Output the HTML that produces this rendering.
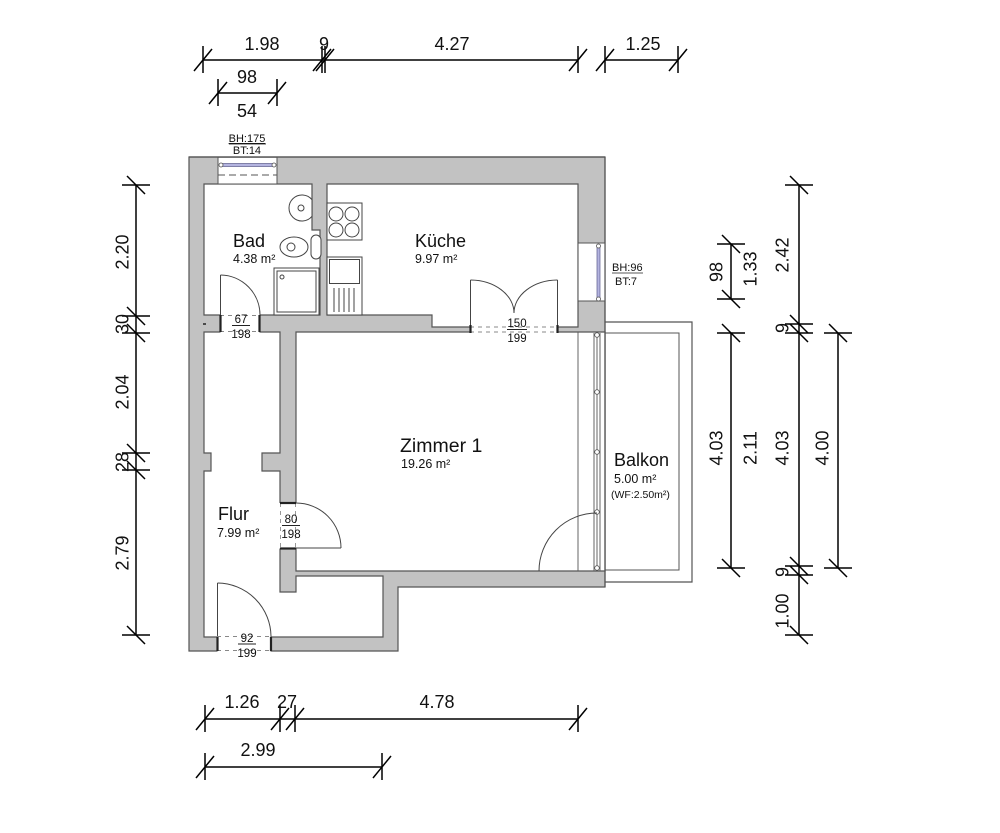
<!DOCTYPE html>
<html><head><meta charset="utf-8"><style>
html,body{margin:0;padding:0;background:#fff;}
svg{display:block;}
text{font-family:"Liberation Sans",Arial,sans-serif;fill:#111;}
</style></head><body>
<svg width="1000" height="833" viewBox="0 0 1000 833" xmlns="http://www.w3.org/2000/svg">
<rect width="1000" height="833" fill="#fff"/>

<!-- walls -->
<polygon points="189,157 605,157 605,587 398,587 398,651 189,651" fill="#c2c2c2" stroke="#555" stroke-width="1.2"/>
<!-- balcony -->
<polyline points="605,322 692,322 692,582 605,582" fill="none" stroke="#555" stroke-width="1.2"/>
<polyline points="605,333 679,333 679,570 605,570" fill="none" stroke="#555" stroke-width="1"/>

<!-- rooms -->
<g fill="#fff" stroke="#555" stroke-width="1.2">
<polygon points="204,184 312,184 312,230 320,230 320,315 204,315"/>
<polygon points="327,184 578,184 578,327 432,327 432,315 327,315"/>
<polygon points="296,332 605,332 605,571 296,571"/>
<polygon points="204,332 280,332 280,453 262,453 262,471 280,471 280,592 296,592 296,576 383,576 383,637 204,637 204,471 211,471 211,453 204,453"/>
</g>

<!-- openings -->
<g fill="#fff">
<rect x="218" y="158" width="59" height="26.5"/>
<rect x="578.6" y="243" width="26" height="58"/>
<rect x="220.5" y="314" width="39" height="19"/>
<rect x="279" y="503" width="18" height="45.5"/>
<rect x="217.5" y="636" width="53" height="16"/>
<rect x="470.5" y="326" width="87" height="7"/>
</g>
<line x1="189" y1="157" x2="605" y2="157" stroke="#555" stroke-width="1.2"/>
<line x1="605" y1="157" x2="605" y2="587" stroke="#555" stroke-width="1.2"/>

<!-- top window -->
<g stroke="#555" stroke-width="1">
<line x1="218" y1="157" x2="218" y2="184"/>
<line x1="277" y1="157" x2="277" y2="184"/>
<line x1="218" y1="184" x2="277" y2="184"/>
<line x1="218" y1="175" x2="277" y2="175" stroke-dasharray="7,4"/>
</g>
<rect x="222" y="163.5" width="51" height="3" fill="#b4b4e0" stroke="#5a5a8a" stroke-width="0.7"/>
<circle cx="221" cy="165" r="2" fill="#fff" stroke="#555" stroke-width="0.8"/>
<circle cx="274" cy="165" r="2" fill="#fff" stroke="#555" stroke-width="0.8"/>

<!-- right window -->
<g stroke="#555" stroke-width="1">
<line x1="578" y1="243" x2="605" y2="243"/>
<line x1="578" y1="301" x2="605" y2="301"/>
<line x1="578" y1="184" x2="578" y2="327"/>
</g>
<rect x="597" y="247" width="3" height="51" fill="#b4b4e0" stroke="#5a5a8a" stroke-width="0.7"/>
<circle cx="598.5" cy="246" r="2" fill="#fff" stroke="#555" stroke-width="0.8"/>
<circle cx="598.5" cy="299" r="2" fill="#fff" stroke="#555" stroke-width="0.8"/>

<!-- balcony window/door wall -->
<g stroke="#555" stroke-width="0.9">
<line x1="578" y1="332" x2="578" y2="571"/>
<line x1="594" y1="333" x2="594" y2="571"/>
<line x1="597" y1="333" x2="597" y2="571"/>
<line x1="600" y1="333" x2="600" y2="571"/>
</g>
<g fill="#fff" stroke="#555" stroke-width="0.8">
<circle cx="597" cy="335" r="2.3"/>
<circle cx="597" cy="392" r="2.3"/>
<circle cx="597" cy="452" r="2.3"/>
<circle cx="597" cy="512" r="2.3"/>
<circle cx="597" cy="568" r="2.3"/>
</g>
<path d="M539 571 A58 58 0 0 1 597 513" fill="none" stroke="#444" stroke-width="1"/>

<!-- doors -->
<g fill="none" stroke="#444" stroke-width="1">
<!-- Bad door -->
<line x1="220.5" y1="315" x2="220.5" y2="275"/>
<path d="M220.5 275 A40 40 0 0 1 260 315"/>
<line x1="220" y1="315.5" x2="260" y2="315.5" stroke="#888" stroke-dasharray="4,4"/>
<line x1="220" y1="331.5" x2="260" y2="331.5" stroke="#888" stroke-dasharray="4,4"/>
<!-- Flur door -->
<line x1="296" y1="548" x2="341" y2="548"/>
<path d="M296 503 A45 45 0 0 1 341 548"/>
<line x1="280.5" y1="503" x2="280.5" y2="548" stroke="#999" stroke-dasharray="4,4"/>
<line x1="295.5" y1="503" x2="295.5" y2="548" stroke="#999" stroke-dasharray="4,4"/>
<!-- entrance -->
<line x1="217.5" y1="637" x2="217.5" y2="583"/>
<path d="M217.5 583 A54 54 0 0 1 271 637"/>
<line x1="217" y1="636.5" x2="271" y2="636.5" stroke="#888" stroke-dasharray="4,4"/>
<line x1="217" y1="650.5" x2="271" y2="650.5" stroke="#888" stroke-dasharray="4,4"/>
<!-- Küche double door -->
<line x1="470.5" y1="329" x2="470.5" y2="280"/>
<line x1="557.5" y1="329" x2="557.5" y2="280"/>
<path d="M470.5 280 A44 33 0 0 1 514 313"/>
<path d="M557.5 280 A44 33 0 0 0 514 313"/>
<line x1="470" y1="327" x2="558" y2="327" stroke="#888" stroke-dasharray="4,4"/>
<line x1="470" y1="332" x2="558" y2="332" stroke="#888" stroke-dasharray="4,4"/>
</g>
<g stroke="#222" stroke-width="2.2">
<line x1="220.5" y1="315" x2="220.5" y2="332"/>
<line x1="259.5" y1="315" x2="259.5" y2="332"/>
<line x1="280" y1="503" x2="296" y2="503"/>
<line x1="280" y1="548.5" x2="296" y2="548.5"/>
<line x1="217.5" y1="637" x2="217.5" y2="651"/>
<line x1="271" y1="637" x2="271" y2="651"/>
<line x1="470.5" y1="325" x2="470.5" y2="333"/>
<line x1="557.5" y1="325" x2="557.5" y2="333"/>
<line x1="203" y1="324" x2="206" y2="324" stroke-width="1.5"/>
</g>

<!-- Bad fixtures -->
<g fill="#fff" stroke="#444" stroke-width="1">
<path d="M312 199.7 A13 13 0 1 0 312 216.3 Z"/>
<circle cx="301" cy="208" r="3"/>
<ellipse cx="294" cy="247" rx="14" ry="10"/>
<circle cx="291" cy="247" r="4"/>
<rect x="311" y="235" width="10" height="24" rx="5"/>
<rect x="274" y="268" width="45" height="47"/>
<rect x="277" y="271" width="39" height="41"/>
<circle cx="282" cy="277" r="2"/>
</g>
<!-- Küche fixtures -->
<g fill="#fff" stroke="#444" stroke-width="1">
<rect x="327" y="203" width="35" height="37"/>
<circle cx="336" cy="214" r="7"/>
<circle cx="352" cy="214" r="7"/>
<circle cx="336" cy="230" r="7"/>
<circle cx="352" cy="230" r="7"/>
<rect x="327" y="257" width="35" height="58"/>
<rect x="329.5" y="259.5" width="30" height="24"/>
<line x1="334" y1="288" x2="334" y2="312"/>
<line x1="339" y1="288" x2="339" y2="312"/>
<line x1="344" y1="288" x2="344" y2="312"/>
<line x1="349" y1="288" x2="349" y2="312"/>
<line x1="354" y1="288" x2="354" y2="312"/>
</g>

<!-- room labels -->
<text x="233" y="247" font-size="18">Bad</text>
<text x="233" y="263" font-size="12.5">4.38 m²</text>
<text x="415" y="247" font-size="18">Küche</text>
<text x="415" y="263" font-size="12.5">9.97 m²</text>
<text x="400" y="452" font-size="19.5">Zimmer 1</text>
<text x="401" y="468" font-size="12.5">19.26 m²</text>
<text x="218" y="520" font-size="18">Flur</text>
<text x="217" y="537" font-size="12.5">7.99 m²</text>
<text x="614" y="466" font-size="18">Balkon</text>
<text x="614" y="483" font-size="12.5">5.00 m²</text>
<text x="611" y="498" font-size="10.5">(WF:2.50m²)</text>

<!-- window labels -->
<text x="247" y="142" font-size="11" text-anchor="middle" text-decoration="underline">BH:175</text>
<line x1="229" y1="144" x2="266" y2="144" stroke="#222" stroke-width="0.8"/>
<text x="247" y="154" font-size="11" text-anchor="middle">BT:14</text>
<text x="612" y="271" font-size="11">BH:96</text>
<line x1="612" y1="273" x2="643" y2="273" stroke="#222" stroke-width="0.8"/>
<text x="615" y="285" font-size="11">BT:7</text>

<!-- door labels -->
<g font-size="11.5" text-anchor="middle">
<text x="241" y="323">67</text><text x="241" y="338">198</text>
<text x="291" y="523">80</text><text x="291" y="538">198</text>
<text x="247" y="642">92</text><text x="247" y="657">199</text>
<text x="517" y="327">150</text><text x="517" y="342">199</text>
</g>
<g stroke="#222" stroke-width="1">
<line x1="232" y1="325.5" x2="250" y2="325.5"/>
<line x1="282" y1="525.5" x2="300" y2="525.5"/>
<line x1="238" y1="644" x2="256" y2="644"/>
<line x1="507" y1="329.5" x2="527" y2="329.5"/>
</g>

<!-- dimension lines -->
<g stroke="#000" stroke-width="1.5" fill="none">
<!-- top -->
<line x1="203" y1="60" x2="578" y2="60"/>
<line x1="203" y1="46" x2="203" y2="73"/><line x1="194" y1="71" x2="212" y2="49"/>
<line x1="322" y1="46" x2="322" y2="73"/><line x1="313" y1="71" x2="331" y2="49"/>
<line x1="325" y1="46" x2="325" y2="73"/><line x1="316" y1="71" x2="334" y2="49"/>
<line x1="578" y1="46" x2="578" y2="73"/><line x1="569" y1="71" x2="587" y2="49"/>
<line x1="605" y1="60" x2="678" y2="60"/>
<line x1="605" y1="46" x2="605" y2="73"/><line x1="596" y1="71" x2="614" y2="49"/>
<line x1="678" y1="46" x2="678" y2="73"/><line x1="669" y1="71" x2="687" y2="49"/>
<line x1="218" y1="93" x2="277" y2="93"/>
<line x1="218" y1="79" x2="218" y2="106"/><line x1="209" y1="104" x2="227" y2="82"/>
<line x1="277" y1="79" x2="277" y2="106"/><line x1="268" y1="104" x2="286" y2="82"/>
<!-- bottom -->
<line x1="205" y1="719" x2="578" y2="719"/>
<line x1="205" y1="705" x2="205" y2="732"/><line x1="196" y1="730" x2="214" y2="708"/>
<line x1="280" y1="705" x2="280" y2="732"/><line x1="271" y1="730" x2="289" y2="708"/>
<line x1="295" y1="705" x2="295" y2="732"/><line x1="286" y1="730" x2="304" y2="708"/>
<line x1="578" y1="705" x2="578" y2="732"/><line x1="569" y1="730" x2="587" y2="708"/>
<line x1="205" y1="767" x2="382" y2="767"/>
<line x1="205" y1="753" x2="205" y2="780"/><line x1="196" y1="778" x2="214" y2="756"/>
<line x1="382" y1="753" x2="382" y2="780"/><line x1="373" y1="778" x2="391" y2="756"/>
<!-- left -->
<line x1="136" y1="185" x2="136" y2="635"/>
<line x1="122" y1="185" x2="150" y2="185"/><line x1="127" y1="176" x2="145" y2="194"/>
<line x1="122" y1="316" x2="150" y2="316"/><line x1="127" y1="307" x2="145" y2="325"/>
<line x1="122" y1="333" x2="150" y2="333"/><line x1="127" y1="324" x2="145" y2="342"/>
<line x1="122" y1="453" x2="150" y2="453"/><line x1="127" y1="444" x2="145" y2="462"/>
<line x1="122" y1="470" x2="150" y2="470"/><line x1="127" y1="461" x2="145" y2="479"/>
<line x1="122" y1="635" x2="150" y2="635"/><line x1="127" y1="626" x2="145" y2="644"/>
<!-- right A -->
<line x1="731" y1="244" x2="731" y2="299"/>
<line x1="717" y1="244" x2="745" y2="244"/><line x1="722" y1="235" x2="740" y2="253"/>
<line x1="717" y1="299" x2="745" y2="299"/><line x1="722" y1="290" x2="740" y2="308"/>
<line x1="731" y1="333" x2="731" y2="568"/>
<line x1="717" y1="333" x2="745" y2="333"/><line x1="722" y1="324" x2="740" y2="342"/>
<line x1="717" y1="568" x2="745" y2="568"/><line x1="722" y1="559" x2="740" y2="577"/>
<!-- right B -->
<line x1="799" y1="185" x2="799" y2="635"/>
<line x1="785" y1="185" x2="813" y2="185"/><line x1="790" y1="176" x2="808" y2="194"/>
<line x1="785" y1="324" x2="813" y2="324"/><line x1="790" y1="315" x2="808" y2="333"/>
<line x1="785" y1="333" x2="813" y2="333"/><line x1="790" y1="324" x2="808" y2="342"/>
<line x1="785" y1="566" x2="813" y2="566"/><line x1="790" y1="557" x2="808" y2="575"/>
<line x1="785" y1="575" x2="813" y2="575"/><line x1="790" y1="566" x2="808" y2="584"/>
<line x1="785" y1="635" x2="813" y2="635"/><line x1="790" y1="626" x2="808" y2="644"/>
<!-- right C -->
<line x1="838" y1="333" x2="838" y2="568"/>
<line x1="824" y1="333" x2="852" y2="333"/><line x1="829" y1="324" x2="847" y2="342"/>
<line x1="824" y1="568" x2="852" y2="568"/><line x1="829" y1="559" x2="847" y2="577"/>
</g>

<!-- dimension text -->
<g font-size="18" text-anchor="middle">
<text x="262" y="50">1.98</text>
<text x="324" y="50">9</text>
<text x="452" y="50">4.27</text>
<text x="643" y="50">1.25</text>
<text x="247" y="83">98</text>
<text x="247" y="117">54</text>
<text x="242" y="708">1.26</text>
<text x="287" y="708">27</text>
<text x="437" y="708">4.78</text>
<text x="258" y="756">2.99</text>

<text transform="translate(128.5,252) rotate(-90)">2.20</text>
<text transform="translate(128.5,324) rotate(-90)">30</text>
<text transform="translate(128.5,392) rotate(-90)">2.04</text>
<text transform="translate(128.5,462) rotate(-90)">28</text>
<text transform="translate(128.5,553) rotate(-90)">2.79</text>

<text transform="translate(722.5,272) rotate(-90)">98</text>
<text transform="translate(756.5,269) rotate(-90)">1.33</text>
<text transform="translate(722.5,448) rotate(-90)">4.03</text>
<text transform="translate(756.5,448) rotate(-90)">2.11</text>
<text transform="translate(788.5,255) rotate(-90)">2.42</text>
<text transform="translate(788.5,328) rotate(-90)">9</text>
<text transform="translate(788.5,448) rotate(-90)">4.03</text>
<text transform="translate(788.5,572) rotate(-90)">9</text>
<text transform="translate(788.5,611) rotate(-90)">1.00</text>
<text transform="translate(828.5,448) rotate(-90)">4.00</text>
</g>
</svg>
</body></html>
